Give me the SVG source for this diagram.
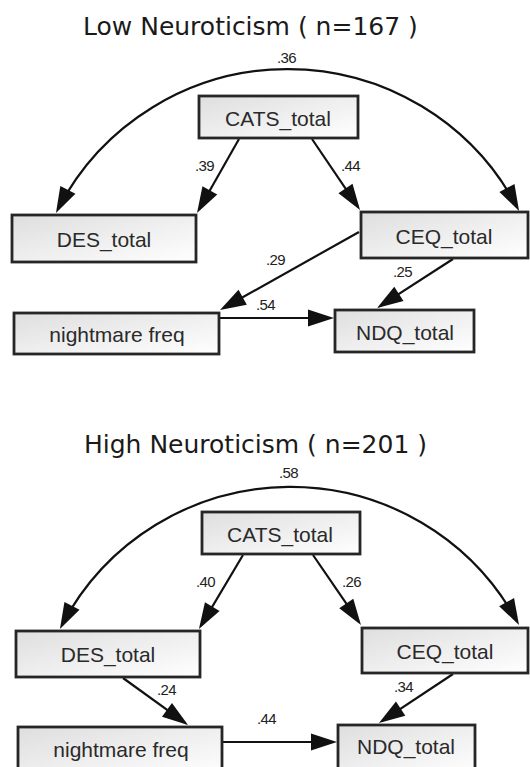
<svg xmlns="http://www.w3.org/2000/svg" width="530" height="767" viewBox="0 0 530 767">
<defs>
<linearGradient id="boxfill" x1="0" y1="0" x2="1" y2="1">
<stop offset="0" stop-color="#dedede"/>
<stop offset="1" stop-color="#ffffff"/>
</linearGradient>
<marker id="arr" markerUnits="userSpaceOnUse" markerWidth="26" markerHeight="17" refX="22" refY="8.5" orient="auto-start-reverse" overflow="visible">
<path d="M0,0 L26,8.5 L0,17 z" fill="#111"/>
</marker>
</defs>
<style>
.box{fill:url(#boxfill);stroke:#262626;stroke-width:2.8}
.lbl{font-family:"Liberation Sans",Arial,sans-serif;font-size:21px;fill:#2a2a2a;text-anchor:middle}
.coef{font-family:"Liberation Sans",Arial,sans-serif;font-size:15px;fill:#222;letter-spacing:-0.6px}
.title{font-family:"DejaVu Sans",Verdana,sans-serif;font-size:25px;fill:#1a1a1a}
.edge{fill:none;stroke:#111;stroke-width:2.2;marker-end:url(#arr)}
.arc{fill:none;stroke:#111;stroke-width:2.2;marker-start:url(#arr);marker-end:url(#arr)}
</style>
<rect width="530" height="767" fill="#ffffff"/>

<text class="title" x="83" y="35">Low Neuroticism ( n=167 )</text>
<text class="title" x="84" y="453">High Neuroticism ( n=201 )</text>

<g id="connectors">
<path class="arc" d="M57.8,209.4 A259,259 0 0 1 517.2,207.4"/>
<path class="edge" d="M239,139 L199,209.5"/>
<path class="edge" d="M312,139 L357.8,206.7"/>
<path class="edge" d="M359,232 L223.5,308"/>
<path class="edge" d="M453,259 L380.4,305.8"/>
<path class="edge" d="M220,318 L330,318"/>
<path class="arc" d="M61.8,625.4 A258,258 0 0 1 517.1,621.5"/>
<path class="edge" d="M243,555 L201,625.6"/>
<path class="edge" d="M313,555 L358.7,621.7"/>
<path class="edge" d="M123,678 L184.8,722.7"/>
<path class="edge" d="M453,674 L382.3,720.8"/>
<path class="edge" d="M223,742 L333,742"/>
</g>

<g id="coefficients">
<text class="coef" x="277" y="63">.36</text>
<text class="coef" x="195" y="171">.39</text>
<text class="coef" x="341" y="171">.44</text>
<text class="coef" x="266" y="265">.29</text>
<text class="coef" x="393" y="277">.25</text>
<text class="coef" x="256" y="310">.54</text>
<text class="coef" x="279" y="478">.58</text>
<text class="coef" x="196" y="587">.40</text>
<text class="coef" x="342" y="587">.26</text>
<text class="coef" x="157" y="695">.24</text>
<text class="coef" x="394" y="692">.34</text>
<text class="coef" x="257" y="724">.44</text>
</g>

<g id="low-cats"><rect class="box" x="199" y="96" width="159" height="42"/><text class="lbl" x="278" y="126">CATS_total</text></g>
<g id="low-des"><rect class="box" x="12" y="215" width="184" height="47"/><text class="lbl" x="104" y="247">DES_total</text></g>
<g id="low-ceq"><rect class="box" x="361" y="212" width="167" height="46"/><text class="lbl" x="444" y="244">CEQ_total</text></g>
<g id="low-nightmare"><rect class="box" x="14" y="313" width="205" height="41"/><text class="lbl" x="117" y="342">nightmare freq</text></g>
<g id="low-ndq"><rect class="box" x="335" y="310" width="139" height="42"/><text class="lbl" x="405" y="340">NDQ_total</text></g>

<g id="high-cats"><rect class="box" x="202" y="512" width="158" height="42"/><text class="lbl" x="280" y="542">CATS_total</text></g>
<g id="high-des"><rect class="box" x="16" y="631" width="184" height="46"/><text class="lbl" x="108" y="662">DES_total</text></g>
<g id="high-ceq"><rect class="box" x="362" y="628" width="166" height="45"/><text class="lbl" x="445" y="659">CEQ_total</text></g>
<g id="high-nightmare"><rect class="box" x="18" y="727" width="204" height="50"/><text class="lbl" x="121" y="757">nightmare freq</text></g>
<g id="high-ndq"><rect class="box" x="338" y="725" width="137" height="50"/><text class="lbl" x="406" y="754">NDQ_total</text></g>
</svg>
